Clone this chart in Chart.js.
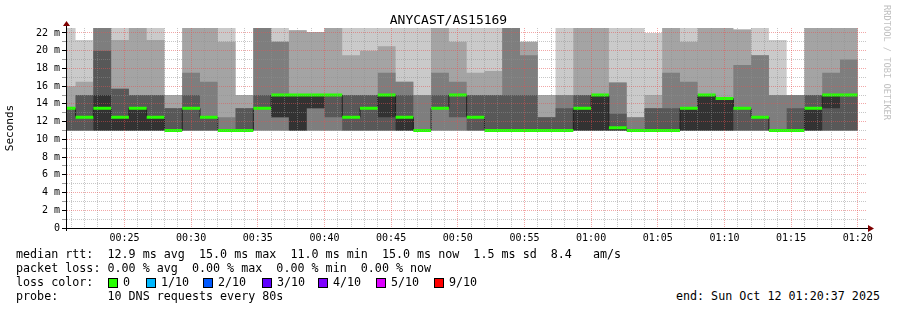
<!DOCTYPE html>
<html>
<head>
<meta charset="utf-8">
<script src="https://cdn.jsdelivr.net/npm/chart.js@4.4.0/dist/chart.umd.min.js"></script>
<style>
  body { margin: 0; background: #fff; width: 897px; height: 310px; overflow: hidden; position: relative;
         font-family: "DejaVu Sans Mono", monospace; color: #000; }
  #chart { position: absolute; left: 0; top: 0; }
  #title { position: absolute; left: 0; top: 12px; width: 897px; text-align: center; font-size: 13px; line-height: 16px; }
  #mark { position: absolute; left: 882px; top: 5px; writing-mode: vertical-rl; font-size: 8.7px; line-height: 10px; color: #c0c0c0; }
  #legend { position: absolute; left: 16px; top: 247px; margin: 0; font: 11.7px/14px "DejaVu Sans Mono", monospace; }
  .item { position: absolute; top: 28px; }
  .sq { position: absolute; top: 31px; width: 8px; height: 8px; border: 1px solid #000; }
  #end { position: absolute; right: 17px; top: 289px; font: 11.7px/14px "DejaVu Sans Mono", monospace; }
</style>
</head>
<body>
<canvas id="chart" width="897" height="250"></canvas>
<div id="title">ANYCAST/AS15169</div>
<div id="mark">RRDTOOL / TOBI OETIKER</div>
<pre id="legend">median rtt:  12.9 ms avg  15.0 ms max  11.0 ms min  15.0 ms now  1.5 ms sd  8.4   am/s
packet loss: 0.00 % avg  0.00 % max  0.00 % min  0.00 % now
loss color:
probe:       10 DNS requests every 80s</pre>
<div id="end">end: Sun Oct 12 01:20:37 2025</div>
<script>
// time in seconds after midnight
const START = 1237;      // 00:20:37
const END = 4837;        // 01:20:37
const FIRST_EDGE = 1280; // first full 80s step
const LAST_EDGE = 4800;
const STEP = 80;

const sampleTimes = [START];
for (let t = FIRST_EDGE; t < LAST_EDGE; t += STEP) sampleTimes.push(t);

// sorted ping rtt per step (ms), 30 = above the top of the graph
const ping1 = [11,11,11,11,11,11,11,11,11,11,11,11,11,11,11,11,11,11,11,11,11,11,11,11,11,11,11,11,11,11,11,11,11,11,11,11,11,11,11,11,11,11,11,11,11];
const ping2 = [11,11,11,11,11,11,11,11,11,11,11,11,11,11,11,11,11,11,11,11,11,11,11,11,11,11,11,11,11,11,11,11,11,11,11,11,11,11,11,11,11,11,11,11,11];
const ping3 = [11,11,11,11,11,11,11,11,11,11,11,11,11,11,11,11,11,11,11,11,11,11,11,11,11,11,11,11,11,11,11,11,11,11,11,11,11,11,11,11,11,11,11,11,11];
const ping4 = [11,11,11,11,11,11,11,11,11,11,11,13.5,12.5,11,13.5,12.5,11,11,11,11,11,13.5,12.5,11,11,11,11,11,11,11,11,11,11,11,11,11,11,11,11,11,11,11,11,11,11];
const ping5 = [13.5,12.5,11,11,11,11,11,13.5,12.5,11,11,13.5,12.5,11,13.5,15,12.5,13.5,12.5,11,11,13.5,15,12.5,11,11,11,11,11,11,11,11,11,11,11,11,11,11,13.5,12.5,11,11,11,13.5,15];
const ping6 = [13.5,12.5,15,12.5,13.5,12.5,11,13.5,12.5,11,11,13.5,15,15,15,15,12.5,13.5,15,12.5,11,13.5,15,12.5,11,11,11,11,11,13.5,15,11.3,11,11,11,13.5,15,14.6,13.5,12.5,11,11,13.5,15,15];
const ping7 = [13.5,15,20,15.7,15,15,13.5,15,12.5,11,13.5,15,15,15,15,15,15,15,15,15,11,15,15,15,15,15,15,12.5,13.5,15,15,12.9,11,13.5,13.5,13.5,15,14.6,13.5,12.5,11,13.5,15,15,15];
const ping8 = [13.5,15,30,15.7,15,15,13.5,17.5,16.5,12.5,13.5,30,21,15,15,15,15,15,17.5,16.5,15,17.5,16.5,15,15,30,19.5,12.5,15,15,15,16.4,12.5,13.5,17.5,16.5,15,14.6,18.4,19.5,15,15,15,17.5,19];
const ping9 = [16,16.5,30,21.2,30,21.2,15,30,30,21,15,30,21,22.3,22.1,30,19.5,20,20.5,16.5,15,30,21,17.5,17.7,30,21,15,15,30,30,16.4,12.5,15,30,21,30,30,22.4,19.5,15,15,30,30,30];
const ping10 = [30,21.2,30,30,30,30,15,30,30,30,15,30,30,22.3,22.1,30,30,30,30,30,30,30,30,30,30,30,21,15,30,30,30,30,30,22,30,30,30,30,22.4,30,21.2,15,30,30,30];
const medianRtt = [13.5,12.5,13.5,12.5,13.5,12.5,11,13.5,12.5,11,11,13.5,15,15,15,15,12.5,13.5,15,12.5,11,13.5,15,12.5,11,11,11,11,11,13.5,15,11.3,11,11,11,13.5,15,14.6,13.5,12.5,11,11,13.5,15,15];

const pings = [ping1, ping2, ping3, ping4, ping5, ping6, ping7, ping8, ping9, ping10];
const smokeShades = ['#cacaca', '#a4a4a4', '#7e7e7e', '#585858', '#323232'];
const lossColors = ['#26ff00', '#00b8ff', '#0059ff', '#5e00ff', '#7e00ff', '#dd00ff', '#ff0000'];
const lossLabels = ['0', '1/10', '2/10', '3/10', '4/10', '5/10', '9/10'];
const lossBoxX = [92, 130, 187, 246, 302, 360, 418];

const minorGrid = 'rgba(143,143,143,0.5)';
const majorGrid = 'rgba(230,80,80,0.5)';
const monoFont = 'DejaVu Sans Mono';

// loss colour legend row
const legend = document.getElementById('legend');
lossLabels.forEach(function (label, i) {
  const sq = document.createElement('span');
  sq.className = 'sq';
  sq.style.left = lossBoxX[i] + 'px';
  sq.style.background = lossColors[i];
  legend.appendChild(sq);
  const txt = document.createElement('span');
  txt.className = 'item';
  txt.style.left = (lossBoxX[i] + 15) + 'px';
  txt.textContent = label;
  legend.appendChild(txt);
});

function stepPoints(values) {
  const pts = values.map(function (v, i) { return { x: sampleTimes[i], y: v }; });
  pts.push({ x: LAST_EDGE, y: values[values.length - 1] });
  return pts;
}

function hhmm(sec) {
  const h = Math.floor(sec / 3600), m = Math.floor(sec % 3600 / 60);
  return String(h).padStart(2, '0') + ':' + String(m).padStart(2, '0');
}

const datasets = [];
// smoke: band i spans ping(i) .. ping(11-i), darker towards the middle
for (let i = 0; i < 5; i++) {
  datasets.push({ data: stepPoints(pings[i]), stepped: true, borderWidth: 0, borderColor: 'rgba(0,0,0,0)', fill: false, order: 20 - 2 * i });
  datasets.push({ data: stepPoints(pings[9 - i]), stepped: true, borderWidth: 0, borderColor: 'rgba(0,0,0,0)', fill: '-1', backgroundColor: smokeShades[i], order: 19 - 2 * i });
}
// thin dark median line
datasets.push({ data: stepPoints(medianRtt), stepped: true, borderWidth: 1, borderColor: '#202020', fill: false, order: 2 });
// green median bars (loss 0) per step
const greenPts = [];
medianRtt.forEach(function (m, i) {
  const t1 = i + 1 < sampleTimes.length ? sampleTimes[i + 1] : LAST_EDGE;
  greenPts.push({ x: sampleTimes[i], y: m }, { x: t1, y: m }, { x: t1, y: null });
});
datasets.push({ data: greenPts, borderWidth: 3, borderColor: lossColors[0], borderCapStyle: 'butt', fill: false, spanGaps: false, order: 1 });

// axis lines with the rrdtool arrow heads
const axisArrows = {
  id: 'axisArrows',
  afterDraw(chart) {
    const ctx = chart.ctx, a = chart.chartArea;
    ctx.save();
    ctx.strokeStyle = '#000';
    ctx.lineWidth = 1;
    ctx.beginPath();
    ctx.moveTo(a.left - 4, a.bottom + 0.5); ctx.lineTo(a.right + 3, a.bottom + 0.5);
    ctx.moveTo(a.left + 0.5, a.bottom + 3); ctx.lineTo(a.left + 0.5, a.top - 3);
    ctx.stroke();
    ctx.fillStyle = '#7f0000';
    ctx.beginPath();
    ctx.moveTo(a.right + 8, a.bottom + 0.5); ctx.lineTo(a.right + 2, a.bottom - 3); ctx.lineTo(a.right + 2, a.bottom + 4); ctx.closePath(); ctx.fill();
    ctx.beginPath();
    ctx.moveTo(a.left + 0.5, a.top - 7); ctx.lineTo(a.left - 3, a.top - 2); ctx.lineTo(a.left + 4, a.top - 2); ctx.closePath(); ctx.fill();
    ctx.restore();
  }
};

new Chart(document.getElementById('chart'), {
  type: 'line',
  data: { datasets: datasets },
  options: {
    responsive: false,
    animation: false,
    layout: { padding: { left: 0, top: 28, right: 31, bottom: 0 } },
    elements: { point: { radius: 0 }, line: { tension: 0 } },
    plugins: { legend: { display: false }, tooltip: { enabled: false }, title: { display: false } },
    scales: {
      x: {
        type: 'linear', min: START, max: END,
        afterBuildTicks: function (s) {
          const ticks = [];
          for (let t = 1260; t <= LAST_EDGE; t += 60) ticks.push({ value: t });
          s.ticks = ticks;
        },
        afterFit: function (s) { s.height = 22; },
        grid: { z: 1, color: function (c) { return c.tick && c.tick.value % 300 === 0 ? majorGrid : minorGrid; }, drawTicks: false },
        // border drawn after the grid so its position is known
        border: { color: '#000', dash: [1, 1], z: 2 },
        ticks: {
          autoSkip: false, maxRotation: 0, padding: 4, color: '#000',
          font: { family: monoFont, size: 10 },
          callback: function (v) { return v % 300 === 0 ? hhmm(v) : ''; }
        }
      },
      y: {
        min: 0, max: 22.56,
        afterBuildTicks: function (s) {
          const ticks = [];
          for (let v = 0; v <= 22; v++) ticks.push({ value: v });
          s.ticks = ticks;
        },
        afterFit: function (s) { s.width = 66; },
        grid: {
          z: 1,
          color: function (c) { return c.tick && c.tick.value % 2 === 0 ? majorGrid : minorGrid; },
          tickColor: function (c) { return c.tick && c.tick.value % 2 === 0 ? '#000' : '#999'; },
          tickLength: 4
        },
        border: { color: '#000', dash: [1, 1], z: 2 },
        title: { display: true, text: 'Seconds', color: '#000', font: { family: monoFont, size: 11 }, padding: { top: 4, bottom: 0 } },
        ticks: {
          autoSkip: false, padding: 2, color: '#000',
          font: { family: monoFont, size: 10 },
          callback: function (v) { return v % 2 === 0 ? (v === 0 ? '0' : v + ' m') : ''; }
        }
      }
    }
  },
  plugins: [axisArrows]
});
</script>
</body>
</html>
